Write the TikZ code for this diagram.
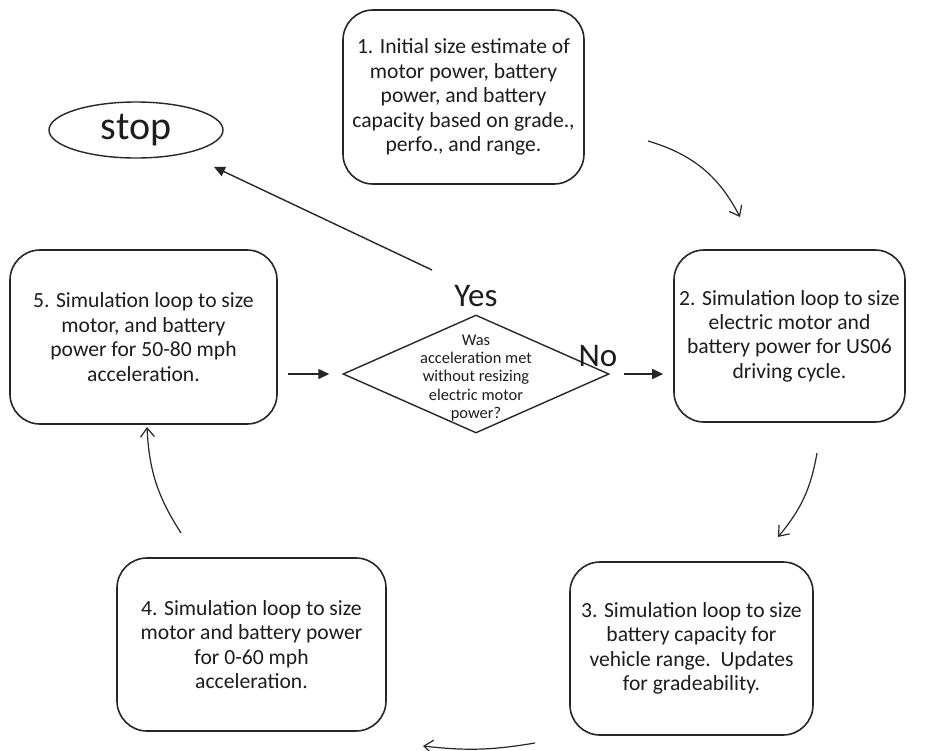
\documentclass[tikz,border=0pt]{standalone}
\usepackage{fontspec}
\setmainfont{Carlito}
\usepackage{tikz}
\usetikzlibrary{arrows.meta,shapes.geometric,positioning}
\definecolor{lineGray}{HTML}{262626}
\definecolor{textBlack}{HTML}{1C1C1C}
\tikzset{
  stepBox/.style={draw=lineGray,line width=0.8pt,rounded corners=15pt,align=center,inner sep=0pt,text=textBlack,font=\fontsize{10.8}{12.2}\selectfont},
  decisionBox/.style={diamond,draw=lineGray,line width=0.7pt,inner sep=0pt,minimum width=133pt,minimum height=59pt},
  decisionText/.style={align=center,inner sep=0pt,text=textBlack,font=\fontsize{8.2}{9.15}\selectfont},
  bigLabel/.style={inner sep=0pt,text=textBlack,font=\fontsize{16.5}{18}\selectfont},
  flowArrow/.style={draw=lineGray,line width=0.7pt,-{Triangle[length=5.5pt,width=5pt]}},
  flowCurve/.style={draw=lineGray,line width=0.6pt,-{Straight Barb[length=4.5pt,width=7pt]}}
}
\begin{document}
\begin{tikzpicture}[x=0.5pt,y=-0.5pt]
\useasboundingbox (0,0) rectangle (934,751);
\node[stepBox,minimum width=120.5pt,minimum height=87pt] (boxOne) at (463.5,97) {1. Initial size estimate of\\motor power, battery\\power, and battery\\capacity based on grade.,\\perfo., and range.};
\node[stepBox,minimum width=115.5pt,minimum height=86pt] (boxTwo) at (789.5,336) {2. Simulation loop to size\\electric motor and\\battery power for US06\\driving cycle.};
\node[stepBox,minimum width=121.5pt,minimum height=86.5pt] (boxThree) at (691.5,648.5) {3. Simulation loop to size\\battery capacity for\\vehicle range.\ \ Updates\\for gradeability.};
\node[stepBox,minimum width=134.5pt,minimum height=86.5pt] (boxFour) at (251.5,644.5) {4. Simulation loop to size\\motor and battery power\\for 0-60 mph\\acceleration.};
\node[stepBox,minimum width=133.5pt,minimum height=87pt] (boxFive) at (143.5,337) {5. Simulation loop to size\\motor, and battery\\power for 50-80 mph\\acceleration.};
\node[decisionBox] (dia) at (476,374) {};
\node[decisionText] (diaText) at (476,378) {Was\\acceleration met\\without resizing\\electric motor\\power?};
\node[ellipse,draw=lineGray,line width=0.7pt,minimum width=87pt,minimum height=28pt,inner sep=0pt,text=textBlack,font=\fontsize{20}{21}\selectfont] (stop) at (136,130) {stop};
\node[bigLabel] (yesLabel) at (476,296) {Yes};
\node[bigLabel] (noLabel) at (598,356) {No};

\coordinate (yesStart) at (432,270);
\draw[flowArrow,shorten >=15.5pt] (yesStart) -- (stop);
\draw[flowArrow,shorten <=5pt,shorten >=6.5pt] (boxFive.east |- dia.west) -- (dia.west);
\draw[flowArrow,shorten <=7pt,shorten >=5pt] (dia.east) -- (dia.east -| boxTwo.west);

\coordinate (oneOut) at (648,141);
\coordinate (twoIn) at (740,217);
\coordinate (twoOut) at (817,453);
\coordinate (threeIn) at (778,537);
\coordinate (threeOut) at (535,743);
\coordinate (fourIn) at (423,746);
\coordinate (fourOut) at (181,533);
\coordinate (fiveIn) at (147,427);
\draw[flowCurve] (oneOut) to[bend left=23] (twoIn);
\draw[flowCurve] (twoOut) to[bend left=15] (threeIn);
\draw[flowCurve] (threeOut) to[bend left=8] (fourIn);
\draw[flowCurve] (fourOut) to[bend left=15] (fiveIn);
\end{tikzpicture}
\end{document}
